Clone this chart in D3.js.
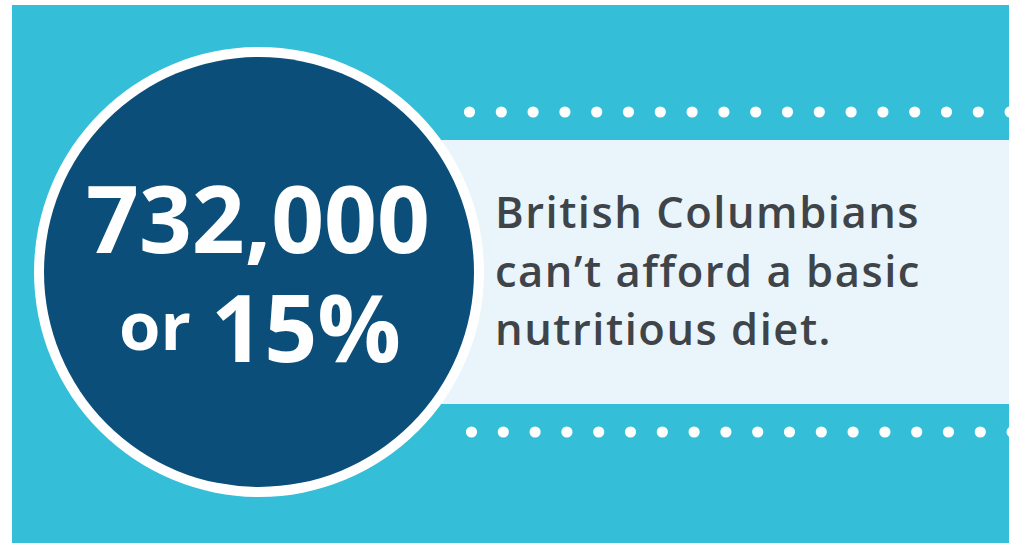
<!DOCTYPE html>
<html>
<head>
<meta charset="utf-8">
<script src="https://cdn.jsdelivr.net/npm/d3@7"></script>
<style>
  html, body { margin: 0; padding: 0; background: #ffffff; }
  svg { display: block; }
</style>
</head>
<body>
<svg id="chart" width="1009" height="543"></svg>
<script>
// ---- data ----
const headlineNumber = ["732,000"];
const headlineShare = ["or", "15%"];
const statementLines = ["British Columbians", "can\u2019t afford a basic", "nutritious diet."];
const dotRows = ["top", "bottom"];

const W = 1009, H = 543;
const svg = d3.select("#chart");

const colors = {
  panel: "#35bed8",
  band: "#e9f5fa",
  circle: "#0b4e79",
  ring: "#ffffff",
  text: "#3f4449",
  dot: "#ffffff"
};

// background panel
svg.append("rect").attr("x", 12).attr("y", 5).attr("width", W - 12).attr("height", H - 5)
  .attr("fill", colors.panel);

// light band
svg.append("rect").attr("x", 250).attr("y", 140).attr("width", W - 250).attr("height", 264)
  .attr("fill", colors.band);

// dotted rows
const xDots = d3.scaleLinear().domain([0, 1]).range([469.5, 501.3]);
const yRow = d3.scaleOrdinal().domain(dotRows).range([112, 432]);
const xOffset = { top: 0, bottom: 2 };
dotRows.forEach(row => {
  const idx = d3.range(0, 18);
  svg.append("g").selectAll("circle").data(idx).join("circle")
    .attr("cx", i => xDots(i) + xOffset[row])
    .attr("cy", yRow(row))
    .attr("r", 5.6)
    .attr("fill", colors.dot);
});

// circle with white ring
const cx = 259, cy = 272;
svg.append("circle").attr("cx", cx).attr("cy", cy).attr("r", 225).attr("fill", colors.ring);
svg.append("circle").attr("cx", cx).attr("cy", cy).attr("r", 215).attr("fill", colors.circle);

const font = "'Open Sans', 'Noto Sans', sans-serif";

function fitSize(sel, targetWidth) {
  const w = sel.node().getComputedTextLength();
  const fs = parseFloat(sel.attr("font-size"));
  sel.attr("font-size", fs * targetWidth / w);
}

// headline as one text block
const head = svg.append("text")
  .attr("font-family", font).attr("font-weight", 700)
  .attr("fill", "#ffffff");

const num = head.append("tspan").text(headlineNumber[0])
  .attr("x", 86).attr("y", 253).attr("font-size", 88);
fitSize(num, 344);

const orT = head.append("tspan").text(headlineShare[0])
  .attr("x", 119).attr("y", 350).attr("font-size", 72);
fitSize(orT, 72);

const pct = head.append("tspan").text(headlineShare[1])
  .attr("x", 211).attr("y", 362).attr("font-size", 91);
fitSize(pct, 190);

// statement
const yLine = d3.scalePoint().domain(statementLines).range([228, 345]);
const lines = svg.append("g").selectAll("text").data(statementLines).join("text")
  .text(d => d)
  .attr("x", 495)
  .attr("y", d => yLine(d))
  .attr("font-family", font).attr("font-weight", 600).attr("font-size", 43.5)
  .attr("fill", colors.text);

// adjust letter spacing so the first line spans the reference width
const first = lines.filter((d, i) => i === 0).node();
const baseW = first.getComputedTextLength();
const nChars = statementLines[0].length;
const ls = (425 - baseW) / nChars;
lines.attr("letter-spacing", ls);
</script>
</body>
</html>
